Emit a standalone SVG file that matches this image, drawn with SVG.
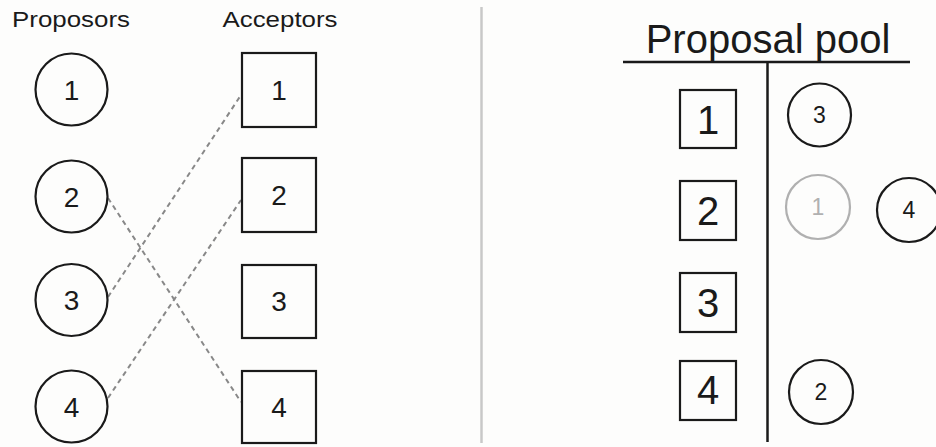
<svg xmlns="http://www.w3.org/2000/svg" width="936" height="447" viewBox="0 0 936 447">
<style>
.bg{fill:#fdfdfc}
.nd{fill:none;stroke:#1a1a1a;stroke-width:2.2}
.gr{fill:none;stroke:#b0b0b0;stroke-width:2.2}
.t{font-family:"Liberation Sans",Arial,sans-serif;fill:#1a1a1a;text-anchor:middle}
.lbl{font-size:22px}
.n{font-size:28px}
.nb{font-size:40px}
.ns{font-size:23px}
.dash{stroke:#888;stroke-width:2;stroke-dasharray:5 4;fill:none}
</style>
<rect class="bg" x="0" y="0" width="936" height="447"/>
<text class="t lbl" x="71" y="27" textLength="118" lengthAdjust="spacingAndGlyphs">Proposors</text>
<text class="t lbl" x="280" y="27" textLength="115" lengthAdjust="spacingAndGlyphs">Acceptors</text>
<g id="connectors">
<line class="dash" x1="108" y1="198" x2="241" y2="402"/>
<line class="dash" x1="108" y1="297" x2="241" y2="95"/>
<line class="dash" x1="108" y1="398" x2="241" y2="200"/>
</g>
<g id="p1"><circle class="nd" cx="71.5" cy="89.5" r="36"/><text class="t n" x="71.5" y="99.5">1</text></g>
<g id="p2"><circle class="nd" cx="71.5" cy="196.5" r="36"/><text class="t n" x="71.5" y="206.5">2</text></g>
<g id="p3"><circle class="nd" cx="71.5" cy="300" r="36"/><text class="t n" x="71.5" y="310">3</text></g>
<g id="p4"><circle class="nd" cx="71.5" cy="406.5" r="36"/><text class="t n" x="71.5" y="416.5">4</text></g>
<g id="a1"><rect class="nd" x="242" y="53" width="74" height="74"/><text class="t n" x="279" y="100">1</text></g>
<g id="a2"><rect class="nd" x="242" y="158" width="74" height="74"/><text class="t n" x="279" y="205">2</text></g>
<g id="a3"><rect class="nd" x="242" y="265" width="74" height="73"/><text class="t n" x="279" y="311">3</text></g>
<g id="a4"><rect class="nd" x="242" y="371" width="74" height="72"/><text class="t n" x="279" y="417">4</text></g>
<line x1="481.5" y1="7" x2="481.5" y2="443" stroke="#c8c8c8" stroke-width="2.5"/>
<g id="pool">
<text class="t" x="768" y="53" style="font-size:40px">Proposal pool</text>
<line x1="623" y1="62" x2="910" y2="62" stroke="#1a1a1a" stroke-width="2.5"/>
<line x1="767.5" y1="62" x2="767.5" y2="442" stroke="#1a1a1a" stroke-width="2.5"/>
</g>
<g id="r1"><rect class="nd" x="680" y="90" width="56" height="58"/><text class="t nb" x="708" y="134">1</text></g>
<g id="r2"><rect class="nd" x="680" y="181" width="56" height="59"/><text class="t nb" x="708" y="225">2</text></g>
<g id="r3"><rect class="nd" x="680" y="273" width="56" height="59"/><text class="t nb" x="708" y="317">3</text></g>
<g id="r4"><rect class="nd" x="680" y="361" width="56" height="59"/><text class="t nb" x="708" y="404">4</text></g>
<g id="c3"><circle class="nd" cx="819.5" cy="115" r="31.5"/><text class="t ns" x="819.5" y="123">3</text></g>
<g id="c1"><circle class="gr" cx="818" cy="207" r="32"/><text class="t ns" x="818" y="215" style="fill:#b0b0b0">1</text></g>
<g id="c4"><circle class="nd" cx="909" cy="210" r="32"/><text class="t ns" x="909" y="218">4</text></g>
<g id="c2"><circle class="nd" cx="821" cy="392" r="32"/><text class="t ns" x="821" y="400">2</text></g>
</svg>
